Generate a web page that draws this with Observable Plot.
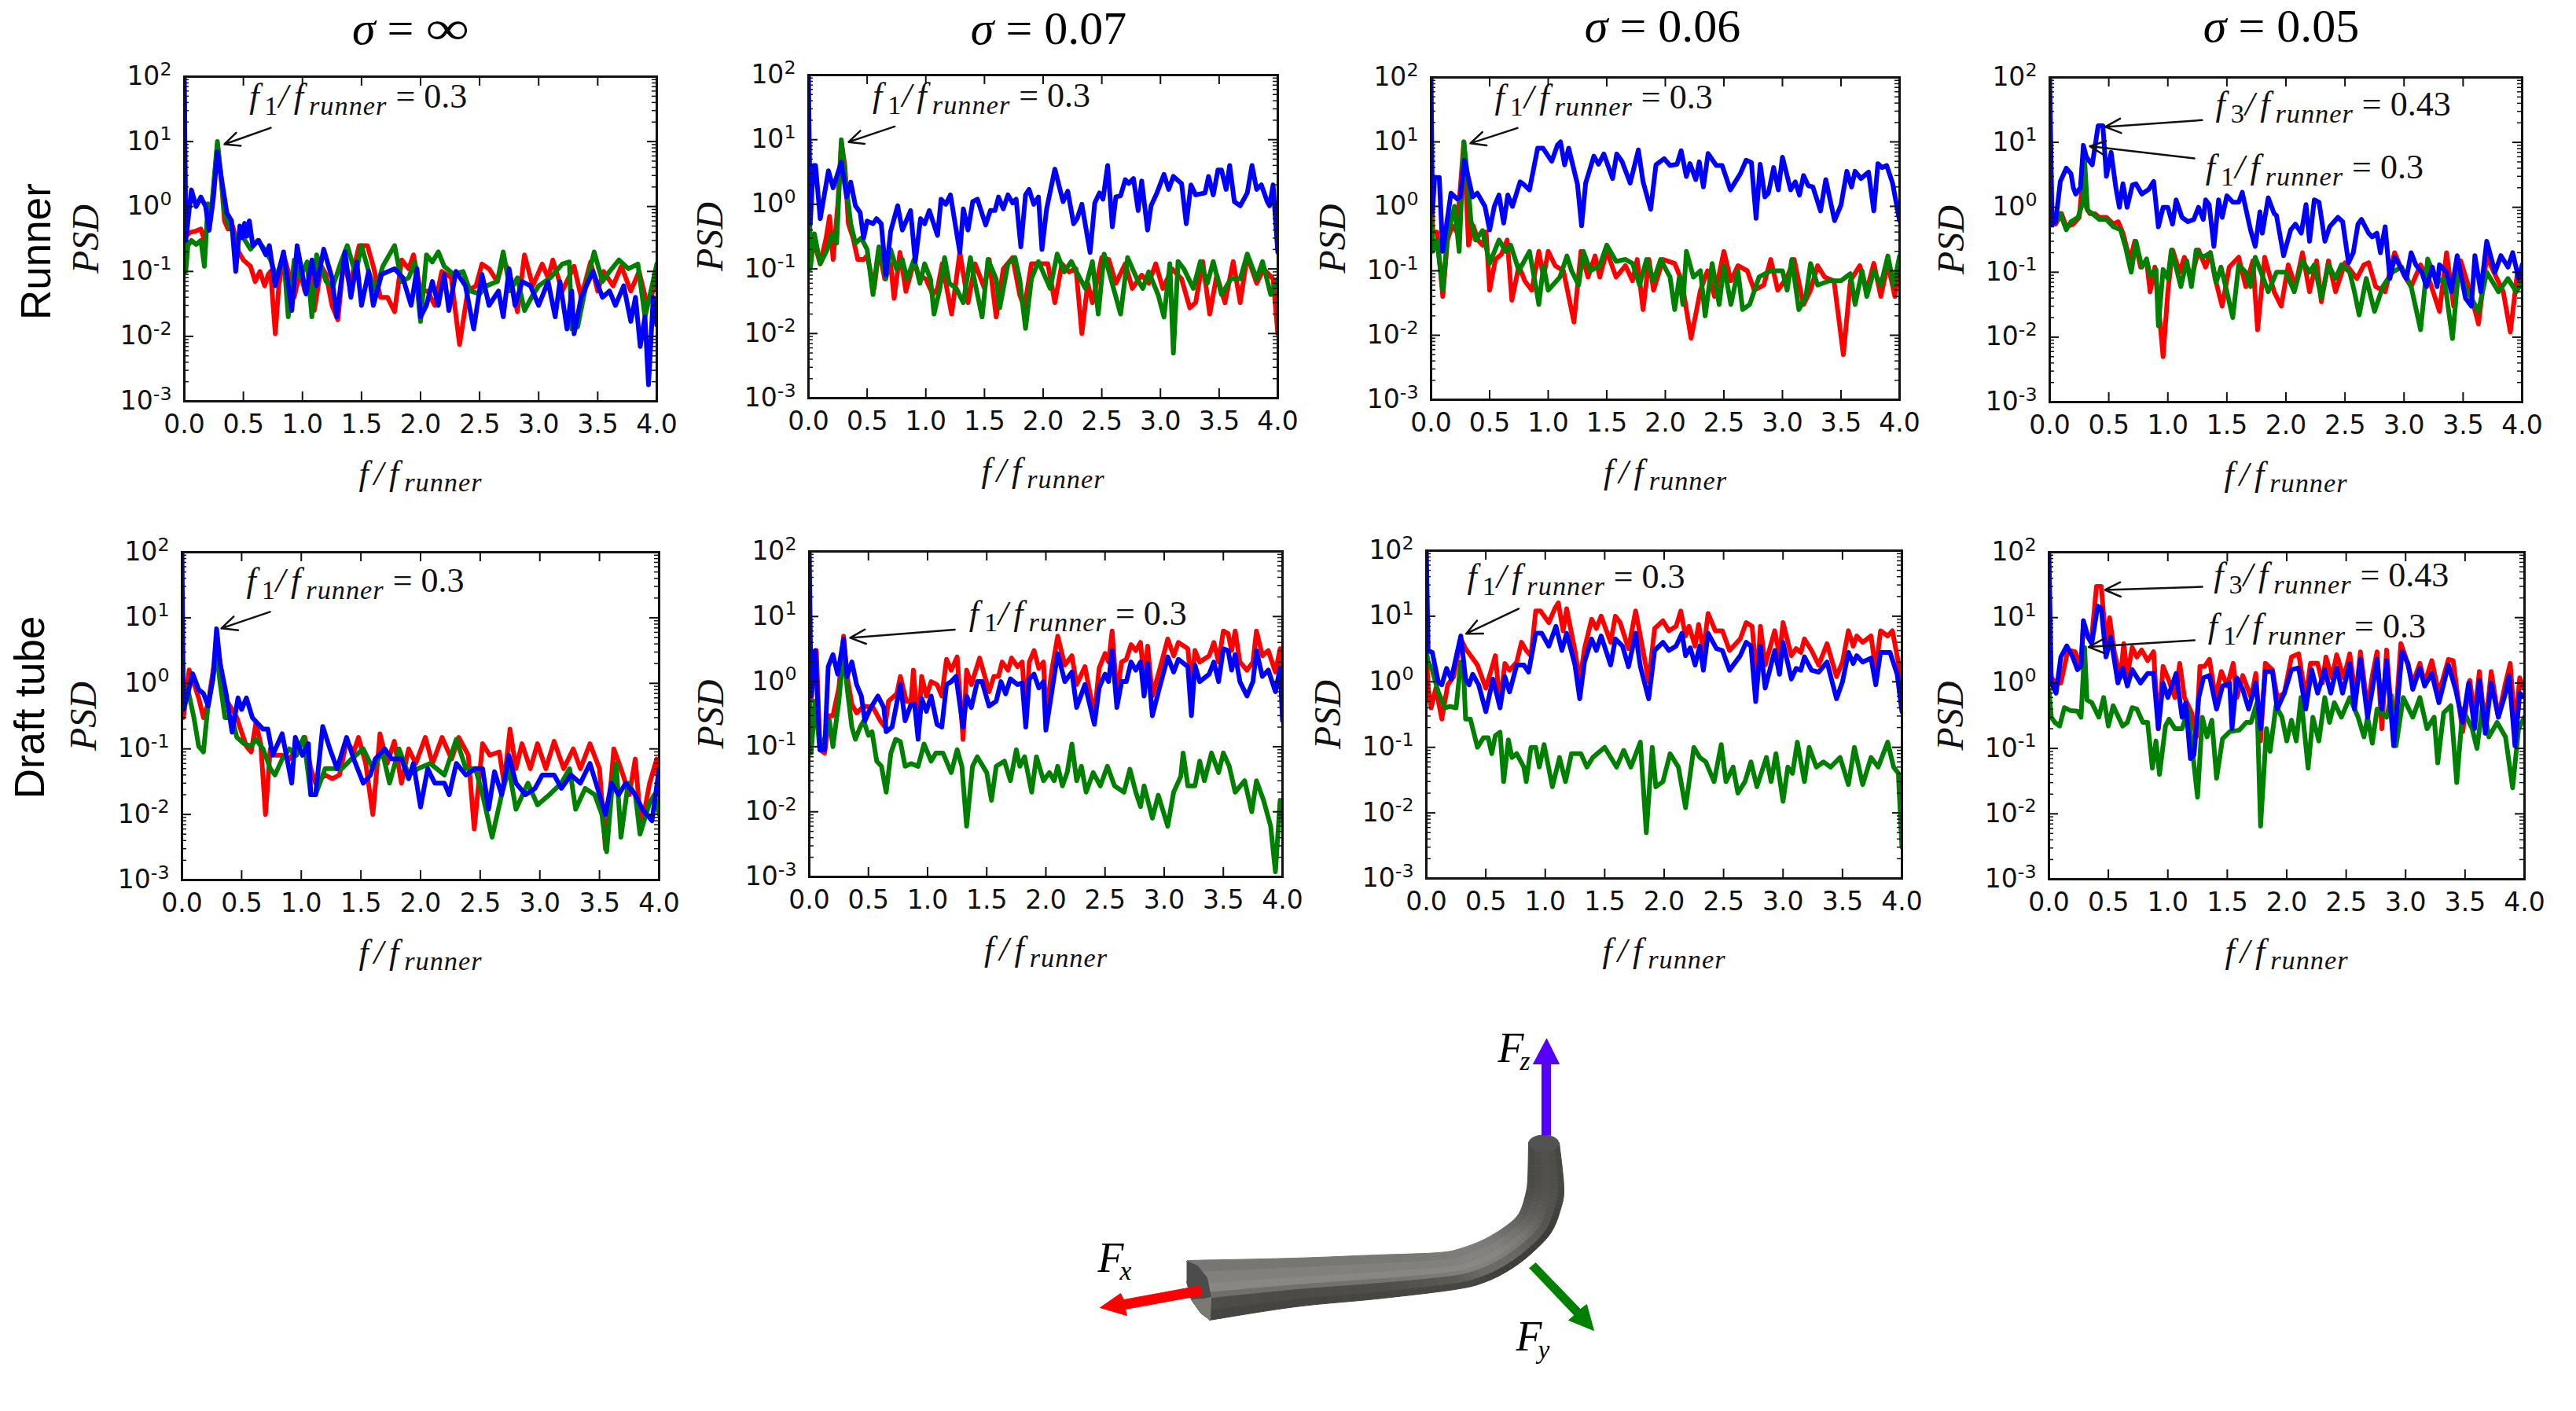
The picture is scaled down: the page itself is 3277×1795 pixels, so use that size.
<!DOCTYPE html>
<html><head><meta charset="utf-8">
<script src="https://cdn.jsdelivr.net/npm/d3@7"></script>
<script src="https://cdn.jsdelivr.net/npm/@observablehq/plot@0.6"></script>
<style>
html,body{margin:0;padding:0;background:#fff;}
#page{position:relative;width:3277px;height:1795px;overflow:hidden;background:#fff;}
#page svg{position:absolute;background:transparent;overflow:visible;}
.sigma{position:absolute;font:60px "Liberation Serif",serif;transform:translateX(-50%);white-space:pre;line-height:1;}
.sigma span{display:inline-block;transform:scaleX(1.3);margin:0 7px;}
.row{position:absolute;font:53px "Liberation Sans",sans-serif;transform:translate(-50%,-50%) rotate(-90deg);white-space:pre;line-height:1;}
</style></head><body><div id="page"></div>
<script>
const xTicks=[0,.5,1,1.5,2,2.5,3,3.5,4];
const yTicks=[1e-3,1e-2,1e-1,1,10,100];
const yMinor=[2e-3,3e-3,4e-3,5e-3,6e-3,7e-3,8e-3,9e-3,2e-2,3e-2,4e-2,5e-2,6e-2,7e-2,8e-2,9e-2,.2,.3,.4,.5,.6,.7,.8,.9,2,3,4,5,6,7,8,9,20,30,40,50,60,70,80,90];
const sigmas=["∞","0.07","0.06","0.05"];
const rows=["Runner","Draft tube"];

// Runner, sigma = infinity
const runInfRed=[[0,12],[.012,.35],[.05,.4],[.1,.42],[.14,.45],[.17,.3],[.2,.55],[.24,1.3],[.28,9],[.31,3],[.34,.6],[.37,.45],[.41,.5],[.46,.2],[.5,.15],[.56,.12],[.6,.07],[.64,.1],[.68,.06],[.71,.09],[.73,.1],[.77,.011],[.8,.06],[.84,.18],[.88,.1],[.93,.04],[.98,.1],[1.02,.05],[1.08,.1],[1.1,.025],[1.16,.12],[1.2,.09],[1.25,.03],[1.3,.018],[1.35,.15],[1.4,.06],[1.48,.25],[1.55,.25],[1.6,.12],[1.66,.04],[1.72,.04],[1.78,.024],[1.84,.15],[1.9,.11],[1.94,.18],[2,.05],[2.06,.05],[2.12,.03],[2.18,.1],[2.26,.08],[2.33,.0075],[2.4,.05],[2.47,.06],[2.52,.13],[2.58,.11],[2.65,.07],[2.7,.15],[2.75,.1],[2.82,.024],[2.88,.18],[2.95,.06],[3.03,.13],[3.08,.08],[3.12,.15],[3.2,.05],[3.3,.12],[3.36,.04],[3.44,.14],[3.5,.05],[3.55,.1],[3.63,.06],[3.7,.12],[3.78,.05],[3.85,.1],[3.92,.03],[4,.07]];
const runInfGreen=[[0,50],[.012,.1],[.03,.25],[.06,.3],[.1,.26],[.14,.3],[.17,.12],[.2,1.1],[.23,.9],[.28,10],[.31,3],[.34,.8],[.38,.5],[.43,.35],[.5,.33],[.56,.22],[.62,.3],[.68,.22],[.73,.15],[.78,.08],[.84,.18],[.88,.02],[.93,.15],[.98,.08],[1.04,.14],[1.08,.02],[1.12,.18],[1.2,.07],[1.26,.06],[1.32,.13],[1.38,.25],[1.45,.09],[1.5,.25],[1.56,.1],[1.62,.05],[1.68,.12],[1.78,.25],[1.84,.07],[1.9,.08],[1.95,.14],[2,.017],[2.05,.18],[2.1,.14],[2.15,.2],[2.2,.12],[2.28,.09],[2.36,.1],[2.42,.05],[2.5,.045],[2.56,.06],[2.65,.07],[2.7,.2],[2.76,.05],[2.82,.08],[2.88,.025],[2.94,.04],[3,.06],[3.1,.08],[3.2,.13],[3.26,.14],[3.28,.013],[3.33,.014],[3.4,.06],[3.47,.2],[3.54,.07],[3.6,.1],[3.68,.15],[3.76,.11],[3.84,.13],[3.9,.02],[3.96,.06],[4,.13]];
const runInfBlue=[[0,100],[.012,.3],[.06,1.8],[.1,1],[.14,1.4],[.18,1],[.21,.43],[.245,1.3],[.28,7],[.31,3],[.36,.8],[.4,.6],[.435,.1],[.47,.5],[.49,.33],[.51,.55],[.53,.35],[.55,.6],[.58,.25],[.63,.3],[.69,.18],[.72,.25],[.77,.06],[.84,.2],[.91,.025],[.955,.25],[1.03,.045],[1.08,.15],[1.12,.06],[1.18,.22],[1.25,.08],[1.29,.02],[1.36,.2],[1.41,.04],[1.46,.14],[1.5,.03],[1.56,.1],[1.6,.03],[1.67,.09],[1.78,.11],[1.85,.08],[1.92,.03],[1.97,.11],[2,.02],[2.05,.03],[2.1,.07],[2.15,.03],[2.2,.09],[2.24,.025],[2.3,.1],[2.38,.06],[2.45,.013],[2.52,.09],[2.58,.03],[2.66,.05],[2.7,.02],[2.75,.11],[2.8,.03],[2.86,.07],[2.93,.06],[3,.03],[3.08,.07],[3.14,.02],[3.18,.07],[3.24,.013],[3.28,.05],[3.3,.011],[3.36,.04],[3.46,.1],[3.54,.04],[3.6,.05],[3.65,.03],[3.72,.06],[3.78,.017],[3.82,.04],[3.86,.007],[3.9,.02],[3.93,.0018],[3.97,.04],[4,.015]];
const runInfNotes=[{label:"f_{1}/f_{runner}=0.3",tx:.55,ty:33,ax1:.732,ay1:16.3,ax2:.34,ay2:9.1}];

// Runner, sigma = 0.07
const run07Red=[[0,4],[.015,.25],[.05,.25],[.1,.12],[.15,.3],[.18,.65],[.21,.14],[.25,1],[.28,9],[.31,4],[.34,.5],[.38,.3],[.42,.14],[.47,.14],[.5,.16],[.56,.05],[.6,.2],[.65,.07],[.7,.12],[.73,.035],[.78,.18],[.83,.045],[.9,.13],[.94,.08],[1,.07],[1.06,.04],[1.1,.05],[1.14,.12],[1.22,.02],[1.29,.18],[1.36,.03],[1.42,.12],[1.5,.05],[1.54,.14],[1.6,.018],[1.66,.1],[1.74,.15],[1.8,.04],[1.84,.025],[1.9,.12],[1.96,.12],[2.04,.12],[2.1,.03],[2.16,.12],[2.22,.09],[2.28,.1],[2.33,.01],[2.38,.06],[2.42,.03],[2.5,.15],[2.56,.14],[2.62,.06],[2.7,.12],[2.76,.05],[2.84,.08],[2.9,.06],[2.96,.12],[3.02,.05],[3.1,.1],[3.18,.07],[3.25,.025],[3.3,.03],[3.36,.13],[3.42,.02],[3.48,.08],[3.55,.03],[3.62,.13],[3.68,.03],[3.74,.16],[3.82,.06],[3.88,.1],[3.96,.07],[4,.01]];
const run07Green=[[0,4],[.015,.1],[.05,.35],[.1,.12],[.16,.2],[.2,.35],[.24,.25],[.28,10],[.31,3],[.36,.5],[.4,.25],[.45,.3],[.5,.2],[.55,.04],[.58,.12],[.6,.22],[.66,.07],[.7,.2],[.75,.1],[.8,.14],[.84,.07],[.9,.14],[.95,.06],[.99,.12],[1.04,.07],[1.07,.02],[1.12,.05],[1.16,.15],[1.2,.06],[1.26,.05],[1.32,.03],[1.38,.15],[1.42,.06],[1.48,.018],[1.53,.14],[1.6,.07],[1.63,.025],[1.7,.12],[1.76,.15],[1.8,.07],[1.85,.012],[1.9,.07],[1.96,.13],[2.06,.05],[2.12,.17],[2.18,.09],[2.24,.13],[2.3,.08],[2.36,.05],[2.42,.13],[2.47,.02],[2.52,.17],[2.6,.05],[2.66,.02],[2.72,.15],[2.8,.07],[2.85,.05],[2.9,.09],[2.98,.04],[3.03,.018],[3.08,.12],[3.11,.005],[3.15,.13],[3.2,.1],[3.28,.05],[3.34,.13],[3.4,.06],[3.45,.13],[3.52,.04],[3.6,.07],[3.68,.07],[3.74,.17],[3.82,.07],[3.87,.13],[3.94,.04],[4,.07]];
const run07Blue=[[0,100],[.015,.5],[.03,1.7],[.045,4],[.06,4],[.1,.6],[.17,3.3],[.21,1.8],[.28,4.5],[.325,1.3],[.36,2.2],[.4,.95],[.44,.75],[.47,.3],[.5,.55],[.55,.5],[.58,.6],[.62,.5],[.66,.08],[.7,.38],[.76,.95],[.8,.4],[.87,.8],[.91,.13],[.955,.6],[.99,.5],[1.03,.8],[1.1,.33],[1.13,1.2],[1.17,1],[1.21,1.4],[1.29,.18],[1.32,.85],[1.36,.4],[1.4,1.1],[1.44,1.2],[1.51,.48],[1.55,.8],[1.59,.8],[1.62,1.3],[1.66,.85],[1.7,1.4],[1.74,1.05],[1.77,1.2],[1.81,.22],[1.85,1.4],[1.88,1.7],[1.92,1],[1.96,1.3],[1.99,.2],[2.03,.85],[2.1,3.5],[2.17,1.1],[2.21,1.6],[2.26,.5],[2.29,.6],[2.33,1],[2.4,.18],[2.44,1.05],[2.48,1.5],[2.51,1.2],[2.55,4],[2.59,.45],[2.62,1.3],[2.66,1.35],[2.7,2.4],[2.73,2.1],[2.77,2.5],[2.81,.8],[2.84,2.3],[2.89,.4],[2.92,.95],[2.97,1.5],[3.03,2.9],[3.07,1.7],[3.11,2.7],[3.18,2.1],[3.22,.5],[3.26,2],[3.3,1.4],[3.38,1.5],[3.41,2.7],[3.45,1.4],[3.49,3.4],[3.52,3.4],[3.56,1.7],[3.59,4],[3.63,1.1],[3.68,.95],[3.74,1.5],[3.78,4],[3.82,1.7],[3.86,2],[3.91,1.1],[3.93,.95],[3.96,2],[4,.18]];
const run07Notes=[{label:"f_{1}/f_{runner}=0.3",tx:.546,ty:32,ax1:.735,ay1:16,ax2:.342,ay2:9.2}];

// Runner, sigma = 0.06
const run06Red=[[0,3],[.015,.4],[.05,.4],[.1,.04],[.14,.3],[.18,.5],[.22,.4],[.28,10],[.32,.25],[.36,.5],[.4,.3],[.44,.25],[.47,.4],[.5,.05],[.55,.15],[.6,.18],[.65,.3],[.69,.035],[.75,.12],[.8,.07],[.86,.05],[.92,.2],[.96,.08],[1,.2],[1.06,.12],[1.13,.1],[1.22,.016],[1.28,.2],[1.34,.08],[1.4,.17],[1.44,.08],[1.5,.2],[1.58,.08],[1.66,.12],[1.72,.07],[1.76,.15],[1.81,.025],[1.86,.15],[1.9,.05],[1.98,.15],[2.08,.13],[2.14,.07],[2.22,.009],[2.3,.05],[2.36,.1],[2.42,.04],[2.5,.2],[2.56,.07],[2.62,.12],[2.7,.1],[2.76,.05],[2.84,.06],[2.9,.15],[2.96,.05],[3.04,.08],[3.1,.15],[3.18,.03],[3.24,.05],[3.3,.12],[3.36,.08],[3.44,.07],[3.52,.005],[3.58,.07],[3.66,.12],[3.72,.05],[3.78,.13],[3.84,.04],[3.9,.13],[3.96,.04],[4,.16]];
const run06Green=[[0,1],[.015,.2],[.05,.3],[.1,.05],[.14,.35],[.2,1],[.24,.2],[.28,10],[.31,3],[.34,.6],[.38,.3],[.44,.42],[.5,.13],[.58,.3],[.64,.2],[.68,.25],[.75,.1],[.84,.2],[.9,.05],[.92,.03],[.96,.12],[1,.05],[1.1,.08],[1.16,.17],[1.2,.1],[1.26,.06],[1.3,.2],[1.36,.1],[1.44,.12],[1.5,.25],[1.58,.14],[1.66,.15],[1.72,.13],[1.78,.06],[1.84,.15],[1.9,.07],[1.96,.15],[2.04,.08],[2.08,.025],[2.12,.08],[2.15,.03],[2.18,.2],[2.24,.08],[2.3,.1],[2.34,.02],[2.4,.13],[2.46,.03],[2.5,.12],[2.56,.03],[2.62,.1],[2.66,.025],[2.72,.03],[2.8,.08],[2.9,.1],[3,.1],[3.04,.05],[3.08,.15],[3.14,.025],[3.2,.04],[3.24,.13],[3.3,.06],[3.4,.07],[3.5,.07],[3.58,.09],[3.62,.03],[3.68,.1],[3.72,.04],[3.78,.1],[3.84,.06],[3.9,.17],[3.95,.06],[4,.17]];
const run06Blue=[[0,100],[.012,.8],[.03,2.8],[.07,2.8],[.1,.2],[.17,1.6],[.225,1.3],[.25,1.4],[.285,5.2],[.355,1.4],[.395,1.6],[.46,1],[.5,.43],[.54,1],[.58,1.5],[.62,.55],[.655,1.5],[.695,1],[.76,2.4],[.79,2.2],[.84,1.8],[.91,8],[.955,8],[1.03,5],[1.08,9],[1.105,10],[1.14,4.4],[1.175,8],[1.25,2.2],[1.285,.5],[1.32,2.3],[1.39,6],[1.43,4.5],[1.475,6.5],[1.55,2.7],[1.585,6.5],[1.63,5],[1.7,2.3],[1.77,7.5],[1.81,2.4],[1.875,.9],[1.92,4.4],[1.99,5.5],[2.04,4.3],[2.1,4.5],[2.135,7.3],[2.18,2.9],[2.21,4.6],[2.26,2.6],[2.29,4.9],[2.325,2],[2.365,6.6],[2.435,4.3],[2.485,4.3],[2.555,1.8],[2.64,3.2],[2.69,5.2],[2.735,4.8],[2.775,.65],[2.81,4.5],[2.85,1.4],[2.88,1.6],[2.925,4],[2.965,1.8],[3,5.8],[3.07,1.8],[3.11,2.4],[3.145,1.5],[3.18,3],[3.22,2.1],[3.26,2],[3.325,.85],[3.37,2.6],[3.445,.6],[3.5,1.05],[3.55,3.5],[3.59,2],[3.62,3.5],[3.67,2.7],[3.735,3.4],[3.78,.85],[3.815,4.6],[3.85,4],[3.89,4.3],[3.94,2.3],[4,.6]];
const run06Notes=[{label:"f_{1}/f_{runner}=0.3",tx:.544,ty:33,ax1:.738,ay1:16.4,ax2:.335,ay2:9.5}];

// Runner, sigma = 0.05
const run05Red=[[0,3],[.015,.55],[.05,.55],[.1,.8],[.14,.5],[.2,.55],[.25,.7],[.285,3.5],[.31,1],[.34,.8],[.38,.8],[.42,.7],[.48,.7],[.54,.55],[.58,.6],[.62,.4],[.68,.15],[.72,.3],[.77,.12],[.82,.15],[.85,.05],[.89,.12],[.93,.02],[.96,.005],[1,.05],[1.04,.22],[1.1,.1],[1.14,.17],[1.2,.08],[1.26,.22],[1.32,.12],[1.36,.2],[1.4,.08],[1.46,.03],[1.52,.12],[1.6,.17],[1.66,.06],[1.72,.15],[1.76,.013],[1.82,.17],[1.9,.05],[1.96,.03],[2.02,.13],[2.08,.06],[2.14,.2],[2.2,.05],[2.26,.15],[2.3,.035],[2.36,.15],[2.42,.05],[2.5,.14],[2.6,.08],[2.66,.13],[2.7,.14],[2.76,.06],[2.84,.05],[2.92,.2],[3,.09],[3.06,.06],[3.14,.13],[3.22,.07],[3.3,.025],[3.36,.2],[3.42,.03],[3.48,.15],[3.56,.05],[3.63,.016],[3.7,.18],[3.76,.1],[3.84,.05],[3.9,.012],[3.96,.1],[4,.06]];
const run05Green=[[0,1.5],[.015,.6],[.05,.6],[.09,.8],[.14,.45],[.18,.6],[.24,.7],[.28,1.2],[.295,5.5],[.32,.9],[.36,.8],[.42,.65],[.48,.65],[.54,.5],[.6,.45],[.64,.25],[.69,.1],[.73,.3],[.78,.12],[.82,.16],[.85,.09],[.9,.11],[.92,.015],[.96,.11],[1,.08],[1.03,.22],[1.08,.1],[1.11,.06],[1.16,.15],[1.2,.06],[1.24,.22],[1.3,.17],[1.36,.2],[1.41,.07],[1.45,.12],[1.5,.05],[1.55,.02],[1.6,.13],[1.66,.1],[1.7,.06],[1.74,.17],[1.79,.1],[1.85,.05],[1.92,.1],[2,.1],[2.07,.05],[2.14,.15],[2.2,.1],[2.24,.13],[2.3,.04],[2.36,.13],[2.42,.08],[2.47,.13],[2.54,.1],[2.58,.05],[2.62,.022],[2.68,.08],[2.75,.025],[2.82,.06],[2.9,.1],[2.98,.12],[3.06,.06],[3.14,.013],[3.2,.16],[3.28,.07],[3.34,.08],[3.41,.0095],[3.46,.1],[3.54,.05],[3.63,.025],[3.7,.1],[3.8,.05],[3.88,.08],[3.95,.05],[4,.07]];
const run05Blue=[[0,100],[.02,.55],[.05,.6],[.09,2.5],[.14,4],[.18,3.3],[.2,2],[.22,1.6],[.26,2],[.285,9],[.31,6],[.34,5],[.36,4.5],[.41,18],[.45,18],[.48,3],[.52,7],[.56,2],[.59,1],[.62,2.3],[.655,1],[.7,2.2],[.73,2.3],[.78,1.6],[.84,1.9],[.88,2.5],[.92,.5],[.96,1],[1,1],[1.04,.55],[1.07,1.3],[1.12,.7],[1.17,.6],[1.22,.65],[1.26,1],[1.3,.65],[1.32,1.3],[1.35,1.1],[1.39,.25],[1.43,1.3],[1.46,.7],[1.5,1.5],[1.55,1.2],[1.6,1.2],[1.63,1.7],[1.7,.45],[1.74,.25],[1.78,.85],[1.8,.4],[1.85,1.4],[1.9,.8],[1.92,.75],[1.98,.18],[2.04,.45],[2.08,.55],[2.13,.4],[2.17,1.1],[2.2,.3],[2.24,1.3],[2.28,1.2],[2.33,.3],[2.37,.5],[2.44,.7],[2.48,.6],[2.53,.14],[2.57,.2],[2.61,.55],[2.64,.65],[2.7,.4],[2.73,.35],[2.77,.4],[2.8,.2],[2.84,.5],[2.88,.08],[2.92,.17],[2.96,.13],[3.02,.08],[3.06,.2],[3.1,.13],[3.15,.1],[3.19,.06],[3.24,.12],[3.28,.06],[3.3,.13],[3.36,.1],[3.4,.05],[3.45,.18],[3.52,.04],[3.57,.03],[3.6,.18],[3.65,.05],[3.7,.3],[3.77,.1],[3.82,.18],[3.88,.12],[3.92,.2],[3.97,.08],[4,.13]];
const run05Notes=[{label:"f_{3}/f_{runner}=0.43",tx:1.405,ty:26,ax1:1.29,ay1:22,ax2:.47,ay2:17.3},{label:"f_{1}/f_{runner}=0.3",tx:1.32,ty:2.8,ax1:1.225,ay1:5.66,ax2:.34,ay2:8.7}];

// Draft tube, sigma = infinity
const dtInfRed=[[0,1],[.012,.3],[.06,1.6],[.1,1],[.14,.6],[.18,.3],[.22,.5],[.27,2],[.29,5],[.32,2],[.36,.6],[.42,.4],[.46,.3],[.5,.18],[.54,.11],[.58,.09],[.62,.25],[.66,.12],[.7,.01],[.74,.1],[.78,.08],[.84,.08],[.9,.07],[.96,.1],[1.03,.15],[1.08,.05],[1.12,.03],[1.2,.04],[1.26,.035],[1.32,.04],[1.38,.13],[1.44,.09],[1.48,.15],[1.54,.06],[1.6,.01],[1.66,.17],[1.72,.06],[1.78,.13],[1.84,.03],[1.9,.1],[1.96,.06],[2.04,.15],[2.1,.06],[2.18,.15],[2.26,.07],[2.32,.15],[2.4,.08],[2.45,.006],[2.52,.12],[2.58,.08],[2.66,.09],[2.7,.03],[2.75,.2],[2.8,.05],[2.85,.12],[2.92,.05],[2.98,.12],[3.05,.05],[3.12,.13],[3.2,.05],[3.28,.1],[3.34,.05],[3.42,.12],[3.5,.05],[3.55,.003],[3.62,.1],[3.68,.05],[3.75,.02],[3.8,.07],[3.85,.006],[3.92,.03],[3.98,.07],[4,.02]];
const dtInfGreen=[[0,2],[.012,.8],[.05,.8],[.1,.3],[.14,.11],[.18,.09],[.22,.5],[.26,1.2],[.29,3],[.32,1],[.36,.3],[.42,.3],[.46,.15],[.52,.12],[.58,.11],[.62,.14],[.68,.1],[.74,.05],[.78,.04],[.84,.07],[.9,.1],[.96,.08],[1.02,.15],[1.08,.02],[1.12,.02],[1.2,.05],[1.26,.05],[1.34,.05],[1.42,.07],[1.52,.1],[1.6,.05],[1.68,.09],[1.74,.03],[1.82,.1],[1.9,.04],[1.98,.05],[2.08,.06],[2.2,.04],[2.3,.14],[2.38,.05],[2.46,.05],[2.52,.02],[2.6,.0045],[2.68,.02],[2.74,.05],[2.8,.012],[2.9,.03],[2.98,.014],[3.08,.02],[3.18,.03],[3.25,.05],[3.3,.012],[3.38,.025],[3.46,.02],[3.52,.01],[3.56,.0027],[3.6,.02],[3.64,.06],[3.68,.0045],[3.74,.03],[3.8,.02],[3.84,.005],[3.92,.015],[3.96,.02],[4,.01]];
const dtInfBlue=[[0,100],[.012,.4],[.04,.6],[.09,1.4],[.14,.8],[.18,.7],[.22,.45],[.26,1.2],[.29,6.8],[.32,2],[.37,.7],[.42,.18],[.47,.6],[.5,.4],[.54,.6],[.59,.3],[.63,.25],[.68,.2],[.72,.2],[.76,.08],[.84,.17],[.92,.03],[.95,.15],[1.01,.08],[1.06,.12],[1.08,.02],[1.12,.02],[1.18,.22],[1.24,.1],[1.3,.05],[1.38,.15],[1.44,.07],[1.52,.03],[1.58,.04],[1.62,.07],[1.7,.1],[1.76,.07],[1.84,.07],[1.9,.035],[1.94,.06],[2,.013],[2.06,.05],[2.12,.03],[2.2,.03],[2.24,.02],[2.3,.06],[2.38,.04],[2.46,.05],[2.52,.05],[2.57,.012],[2.62,.045],[2.68,.02],[2.74,.08],[2.8,.03],[2.88,.02],[2.96,.025],[3.02,.04],[3.12,.04],[3.18,.025],[3.26,.04],[3.34,.03],[3.42,.06],[3.5,.02],[3.55,.01],[3.6,.03],[3.66,.02],[3.72,.03],[3.8,.02],[3.86,.012],[3.94,.008],[4,.05]];
const dtInfNotes=[{label:"f_{1}/f_{runner}=0.3",tx:.54,ty:25,ax1:.738,ay1:12.3,ax2:.33,ay2:6.9}];

// Draft tube, sigma = 0.07
const dt07Red=[[0,1],[.015,.5],[.06,3],[.09,.09],[.13,.08],[.17,.3],[.2,.3],[.25,.8],[.29,5],[.32,1.2],[.36,.45],[.4,.33],[.46,.42],[.54,.4],[.6,.25],[.64,.2],[.67,.5],[.74,.65],[.77,1.2],[.82,.5],[.86,.5],[.88,1.5],[.92,.18],[.95,1.2],[.99,.6],[1.03,1],[1.08,.9],[1.12,.6],[1.16,2.2],[1.2,1.5],[1.25,2.4],[1.3,.13],[1.33,1.5],[1.37,.9],[1.44,2.3],[1.52,.7],[1.56,1.2],[1.6,1.2],[1.63,2],[1.68,1.5],[1.71,2.3],[1.76,1.7],[1.8,2],[1.83,.3],[1.86,2],[1.9,3],[1.94,1.6],[1.98,2],[2,.3],[2.05,1.5],[2.1,5],[2.16,1.8],[2.22,2.5],[2.26,.9],[2.33,1.7],[2.41,.3],[2.45,1.6],[2.5,2.7],[2.53,2],[2.56,6],[2.6,.6],[2.64,2],[2.68,2.2],[2.72,3.7],[2.76,3],[2.8,4],[2.83,1],[2.86,3.5],[2.9,.6],[2.96,1.5],[3.03,4.5],[3.08,2.5],[3.12,4],[3.2,3.2],[3.23,.8],[3.26,3],[3.3,2],[3.38,2.5],[3.42,4],[3.46,2],[3.5,6],[3.54,5.5],[3.57,3],[3.6,6],[3.64,2],[3.7,1.5],[3.75,2],[3.78,6],[3.83,2.5],[3.88,3],[3.94,1.4],[3.98,3.2],[4,.6]];
const dt07Green=[[0,1],[.015,.08],[.05,.5],[.09,.09],[.14,.15],[.17,.25],[.2,.1],[.25,.5],[.29,3],[.32,.8],[.36,.2],[.39,.13],[.43,.2],[.46,.25],[.5,.15],[.53,.17],[.57,.06],[.61,.05],[.65,.02],[.69,.08],[.73,.13],[.77,.12],[.81,.05],[.86,.055],[.92,.05],[.97,.11],[1.03,.06],[1.07,.08],[1.13,.08],[1.2,.04],[1.25,.09],[1.29,.05],[1.33,.006],[1.38,.05],[1.42,.07],[1.5,.04],[1.54,.015],[1.58,.05],[1.65,.06],[1.7,.03],[1.75,.09],[1.78,.05],[1.82,.07],[1.88,.02],[1.92,.07],[1.98,.03],[2.03,.04],[2.07,.03],[2.1,.05],[2.14,.025],[2.18,.04],[2.22,.11],[2.26,.03],[2.3,.05],[2.34,.02],[2.4,.04],[2.46,.025],[2.52,.05],[2.58,.025],[2.66,.02],[2.71,.045],[2.76,.02],[2.8,.012],[2.83,.025],[2.9,.008],[2.95,.018],[3.03,.006],[3.08,.02],[3.14,.035],[3.16,.08],[3.2,.025],[3.26,.025],[3.3,.06],[3.34,.03],[3.4,.08],[3.46,.04],[3.5,.08],[3.55,.05],[3.6,.02],[3.68,.03],[3.74,.01],[3.78,.03],[3.84,.015],[3.9,.006],[3.94,.0012],[3.98,.015],[4,.01]];
const dt07Blue=[[0,100],[.015,.6],[.05,3],[.09,.09],[.13,.09],[.16,1.7],[.2,2.6],[.24,1.3],[.29,4.5],[.32,1.2],[.36,2],[.4,.9],[.44,.6],[.47,.25],[.52,.4],[.58,.6],[.63,.4],[.65,.17],[.7,.2],[.77,.9],[.81,.25],[.86,.45],[.89,.45],[.92,.13],[.95,.55],[.99,.35],[1.03,.6],[1.08,.22],[1.12,.2],[1.16,.9],[1.2,1],[1.24,1.2],[1.3,.2],[1.33,.6],[1.37,.4],[1.42,1],[1.46,1],[1.52,.42],[1.58,.5],[1.62,1],[1.66,.65],[1.7,1.1],[1.76,.9],[1.8,.95],[1.83,.2],[1.86,1.1],[1.9,1.3],[1.94,.8],[1.98,1],[2,.18],[2.05,.7],[2.1,2.7],[2.16,1],[2.22,1.4],[2.26,.4],[2.33,.9],[2.41,.22],[2.45,.8],[2.5,1.3],[2.53,1],[2.56,3],[2.6,.4],[2.64,1],[2.68,1],[2.72,2],[2.76,1.5],[2.8,2],[2.83,.6],[2.86,1.9],[2.9,.3],[2.96,.8],[3.03,2.4],[3.08,1.4],[3.12,2.2],[3.2,1.7],[3.23,.3],[3.26,1.8],[3.3,1],[3.38,1.3],[3.42,2],[3.46,1],[3.5,3.2],[3.54,3],[3.57,1.5],[3.6,2.6],[3.64,1],[3.7,.6],[3.75,1],[3.78,3],[3.83,1.2],[3.88,1.5],[3.94,.7],[3.98,1.6],[4,.25]];
const dt07Notes=[{label:"f_{1}/f_{runner}=0.3",tx:1.35,ty:7.5,ax1:1.23,ay1:6.3,ax2:.345,ay2:4.7}];

// Draft tube, sigma = 0.06
const dt06Red=[[0,3],[.015,.8],[.04,.4],[.08,.8],[.13,.27],[.18,.9],[.23,1.2],[.29,4.5],[.33,3.2],[.38,2.4],[.43,1.8],[.5,.8],[.55,1.6],[.58,2.5],[.62,.45],[.66,1.9],[.7,1.5],[.76,2],[.8,4],[.84,3],[.88,2.5],[.92,12],[.96,12],[1.03,8],[1.08,13],[1.11,16],[1.15,6],[1.18,13],[1.25,3],[1.29,1],[1.33,3.2],[1.39,9],[1.43,6.5],[1.47,10],[1.55,4],[1.59,10],[1.63,8],[1.7,3.2],[1.76,12],[1.81,4],[1.87,1],[1.92,6.5],[1.99,8.5],[2.04,6],[2.1,7],[2.14,12],[2.18,5],[2.21,7],[2.26,3.5],[2.29,7.5],[2.33,3],[2.37,11],[2.43,6],[2.49,6],[2.55,3],[2.64,4.5],[2.69,8],[2.74,7],[2.78,1],[2.81,7],[2.85,1.8],[2.93,6],[2.97,2.5],[3,8],[3.07,2.5],[3.11,3.2],[3.15,2.8],[3.18,4.5],[3.24,3],[3.3,1.8],[3.37,3.8],[3.45,1.2],[3.5,2],[3.55,6],[3.59,3.5],[3.62,5],[3.67,4],[3.74,5],[3.78,1.5],[3.82,6],[3.88,5],[3.92,6],[4,1]];
const dt06Green=[[0,3],[.015,2],[.05,1.5],[.1,.7],[.16,.4],[.2,.42],[.25,.4],[.29,2],[.31,2],[.33,.27],[.37,.27],[.43,.1],[.48,.14],[.52,.14],[.55,.08],[.58,.15],[.62,.17],[.65,.03],[.69,.13],[.72,.07],[.76,.08],[.82,.05],[.84,.03],[.88,.1],[.92,.1],[.95,.05],[.99,.11],[1.06,.025],[1.12,.07],[1.17,.03],[1.22,.08],[1.3,.08],[1.35,.05],[1.4,.07],[1.5,.1],[1.6,.05],[1.66,.09],[1.72,.05],[1.8,.12],[1.85,.005],[1.9,.1],[1.93,.025],[1.99,.03],[2.05,.08],[2.12,.05],[2.18,.012],[2.25,.1],[2.3,.07],[2.35,.06],[2.42,.03],[2.48,.11],[2.52,.03],[2.58,.05],[2.62,.02],[2.68,.03],[2.73,.06],[2.78,.025],[2.86,.07],[2.9,.03],[2.94,.08],[3,.015],[3.04,.05],[3.08,.04],[3.12,.12],[3.18,.03],[3.22,.1],[3.28,.05],[3.34,.06],[3.4,.05],[3.48,.07],[3.55,.027],[3.6,.1],[3.67,.027],[3.74,.07],[3.8,.05],[3.88,.12],[3.93,.05],[3.97,.04],[4,.003]];
const dt06Blue=[[0,100],[.015,3],[.05,2.8],[.1,1],[.13,.9],[.17,1.6],[.21,1.1],[.29,5],[.33,1.1],[.36,.9],[.39,1.3],[.44,.9],[.5,.35],[.56,1.1],[.62,.4],[.66,1.2],[.7,.7],[.76,1.8],[.82,1.8],[.86,1.4],[.92,5.5],[.97,5.5],[1.03,3.5],[1.09,7],[1.14,3],[1.18,5.5],[1.25,1.8],[1.29,.55],[1.33,2],[1.39,4.5],[1.43,3],[1.47,5],[1.55,1.8],[1.59,4.5],[1.65,3.5],[1.7,1.7],[1.76,5.5],[1.8,1.7],[1.87,.55],[1.92,3],[1.99,4],[2.04,3],[2.1,3.5],[2.15,5.5],[2.18,2.5],[2.22,3.3],[2.26,1.8],[2.3,3.5],[2.33,1.5],[2.37,5.5],[2.44,3.2],[2.49,3],[2.55,1.5],[2.64,2.5],[2.69,4],[2.73,3.5],[2.77,.5],[2.81,3.5],[2.85,.8],[2.93,3],[2.97,1.3],[3,4],[3.07,1.1],[3.11,1.6],[3.15,1.5],[3.18,2.4],[3.24,1.5],[3.3,1.4],[3.37,2],[3.45,.55],[3.5,1],[3.55,2.8],[3.59,1.9],[3.62,2.5],[3.67,2],[3.74,2.3],[3.78,.9],[3.82,2.8],[3.9,2.8],[3.96,1.3],[4,.35]];
const dt06Notes=[{label:"f_{1}/f_{runner}=0.3",tx:.344,ty:27,ax1:.777,ay1:13,ax2:.335,ay2:5.4}];

// Draft tube, sigma = 0.05
const dt05Red=[[0,3],[.02,1.2],[.06,1],[.1,1],[.16,3.2],[.22,3],[.27,1.8],[.29,8],[.33,5],[.36,5],[.4,30],[.44,30],[.48,4],[.51,10],[.55,3],[.6,1.2],[.63,4],[.66,1.3],[.7,3.5],[.74,2.5],[.78,3.2],[.83,2.2],[.88,3],[.92,.2],[.96,1.8],[1,1.2],[1.06,.6],[1.1,2],[1.14,.6],[1.2,.35],[1.24,.15],[1.27,1.8],[1.31,1.8],[1.35,2.3],[1.4,.6],[1.45,1.5],[1.5,.9],[1.55,2],[1.58,.6],[1.63,1.3],[1.7,.6],[1.74,1.4],[1.78,.13],[1.82,2],[1.88,1.6],[1.92,.6],[1.98,.7],[2.04,2.5],[2.1,2.8],[2.16,.6],[2.2,2],[2.26,2],[2.3,1],[2.33,2.5],[2.38,1.2],[2.42,2.7],[2.48,1.2],[2.53,2.8],[2.58,.6],[2.62,3],[2.68,.4],[2.72,1.3],[2.76,3],[2.8,.2],[2.84,3.2],[2.9,.12],[2.96,4],[3,2.5],[3.06,1],[3.12,2],[3.16,1],[3.22,2.2],[3.28,.7],[3.36,2.3],[3.4,2.2],[3.44,.6],[3.48,.18],[3.54,1.1],[3.58,.3],[3.62,1.5],[3.67,.2],[3.72,1.5],[3.78,.3],[3.84,1],[3.88,2],[3.92,.2],[3.96,1.2],[4,.8]];
const dt05Green=[[0,.8],[.02,.3],[.05,.25],[.09,.22],[.13,.42],[.18,.38],[.24,.37],[.27,.3],[.3,3.5],[.32,.55],[.36,.5],[.42,.3],[.46,.6],[.5,.22],[.54,.45],[.62,.22],[.66,.25],[.7,.42],[.74,.4],[.79,.25],[.83,.25],[.87,.05],[.9,.13],[.93,.04],[.98,.22],[1.01,.28],[1.06,.2],[1.12,.2],[1.17,.4],[1.2,.12],[1.25,.018],[1.29,.3],[1.33,.15],[1.37,.27],[1.41,.035],[1.46,.14],[1.52,.18],[1.6,.19],[1.66,.25],[1.7,.25],[1.75,.5],[1.78,.0065],[1.83,.2],[1.86,.09],[1.91,.45],[1.96,.3],[2,.13],[2.04,.27],[2.08,.13],[2.12,.6],[2.18,.05],[2.22,.3],[2.27,.13],[2.32,.6],[2.36,.25],[2.4,.5],[2.46,.3],[2.53,.6],[2.6,.3],[2.65,.15],[2.68,.3],[2.72,.12],[2.76,.4],[2.84,.3],[2.88,.65],[2.92,.11],[2.98,.6],[3.06,.3],[3.12,.6],[3.18,.2],[3.24,.3],[3.27,.06],[3.32,.35],[3.38,.45],[3.43,.03],[3.48,.4],[3.56,.2],[3.6,.1],[3.65,.5],[3.7,.15],[3.77,.25],[3.84,.15],[3.9,.025],[3.95,.2],[4,.3]];
const dt05Blue=[[0,100],[.02,1],[.06,.7],[.1,2.5],[.15,3.7],[.2,2.5],[.24,1.6],[.27,1.8],[.29,9],[.33,5],[.36,4],[.41,15],[.44,14],[.48,2.5],[.52,5],[.58,1],[.62,1.7],[.66,.9],[.7,1.6],[.77,1],[.83,1.4],[.88,1.4],[.92,.2],[.96,1],[1,.6],[1.07,1.4],[1.12,.3],[1.15,.5],[1.19,.07],[1.22,.08],[1.26,.6],[1.3,1.2],[1.35,1.3],[1.41,.4],[1.46,.9],[1.52,1],[1.54,.2],[1.58,1.2],[1.63,.8],[1.68,.4],[1.74,1],[1.78,.2],[1.82,1.5],[1.88,1.5],[1.92,.4],[1.98,.7],[2.04,1.6],[2.1,1.7],[2.16,.4],[2.21,1.6],[2.26,.7],[2.32,1.6],[2.37,.7],[2.42,1.7],[2.47,.7],[2.53,2],[2.57,.4],[2.62,2.3],[2.68,.3],[2.72,.8],[2.76,2.3],[2.8,.4],[2.84,2.2],[2.9,.11],[2.97,3],[3.02,2],[3.06,.8],[3.12,1.7],[3.16,.9],[3.22,1.4],[3.28,.5],[3.36,1.9],[3.42,.8],[3.48,.25],[3.53,1],[3.58,.2],[3.62,1.1],[3.67,.17],[3.72,1],[3.78,.3],[3.84,.7],[3.87,1.3],[3.92,.11],[3.96,.7],[4,.6]];
const dt05Notes=[{label:"f_{3}/f_{runner}=0.43",tx:1.387,ty:29.6,ax1:1.29,ay1:29.6,ax2:.472,ay2:26.5},{label:"f_{1}/f_{runner}=0.3",tx:1.338,ty:4.9,ax1:1.225,ay1:4.5,ax2:.334,ay2:3.55}];

// Sketch of the draft tube (page pixels, no chart values)
const tubeUpper=[[1510,1603],[1647,1600],[1750,1596],[1830,1593],[1860,1587],[1890,1575],[1917,1558],[1932,1543],[1940,1520],[1943,1500],[1944,1453]];
const tubeLower=[[1538,1679],[1647,1662],[1750,1652],[1850,1640],[1890,1630],[1923,1613],[1950,1592],[1973,1567],[1985,1537],[1989,1510],[1983,1453]];
const tubeBands=[0,.2,.4,.55,.65,.85,1];
const tubeGrays=[[118,128,135,110,75,68],[118,128,135,112,75,68],[120,128,135,115,78,70],[122,128,135,125,90,70],[125,130,135,130,105,65],[120,128,132,125,105,60],[105,112,118,115,95,60],[90,95,98,95,85,60],[78,82,84,84,80,66],[72,76,80,80,78,70],[72,76,78,78,76,72]];
const outletDark=[[1509,1604],[1523,1610],[1535,1625],[1540,1650],[1539,1679],[1527,1670],[1515,1653],[1509,1630]];
const outletRim=[[1515,1653],[1530,1652],[1540,1650],[1539,1679],[1527,1670]];
const arrowRed=[[1527,1635],[1429,1653],[1425,1645],[1399,1663],[1433,1673],[1431,1665],[1529,1647]];
const arrowBlue=[[1961,1444],[1961,1353],[1950,1353],[1967,1321],[1983,1353],[1972,1353],[1972,1444]];
const arrowGreen=[[1945,1613],[1953,1606],[2010,1665],[2018,1659],[2027,1692],[1995,1679],[2002,1673]];
const forceLabels=[{t:"F_{x}",x:1396,y:1617},{t:"F_{z}",x:1905,y:1350},{t:"F_{y}",x:1928,y:1717}];

const frames=[[234,835,97,510],[1027.5,1624.5,95,506],[1820,2416,98,508],[2607,3208,98,511],[231,838,702,1119],[1029,1631,701,1115],[1814,2419,700,1117],[2606,3211,702,1118]];
const panels=[
 [runInfRed,runInfGreen,runInfBlue,runInfNotes],[run07Red,run07Green,run07Blue,run07Notes],[run06Red,run06Green,run06Blue,run06Notes],[run05Red,run05Green,run05Blue,run05Notes],
 [dtInfRed,dtInfGreen,dtInfBlue,dtInfNotes],[dt07Red,dt07Green,dt07Blue,dt07Notes],[dt06Red,dt06Green,dt06Blue,dt06Notes],[dt05Red,dt05Green,dt05Blue,dt05Notes]];
const seriesColors=["#ff0000","#008000","#0000ff"];

const page=document.getElementById("page");
const NS="http://www.w3.org/2000/svg";
function typeset(svg){
  svg.querySelectorAll("text").forEach(t=>{
    const s=t.textContent; if(!/[_^]/.test(s)) return;
    const base=parseFloat(getComputedStyle(t).fontSize);
    const math=!/^\d/.test(s), force=s[0]==="F";
    t.textContent=""; let shift=0;
    const add=(str,o)=>{const e=document.createElementNS(NS,"tspan");e.textContent=str;
      e.style.fontSize=o.size+"px";e.style.fontStyle=o.italic?"italic":"normal";
      if(o.ls)e.style.letterSpacing=o.ls+"px";
      const dy=(o.rise||0)-shift;shift=o.rise||0;if(dy)e.setAttribute("dy",dy);
      if(o.dx)e.setAttribute("dx",o.dx);t.appendChild(e);};
    for(const m of s.matchAll(/_\{([^}]*)\}|\^\{([^}]*)\}|[^_^]+/g)){
      if(m[1]!==undefined) add(m[1],{size:base*(force?.62:.78),italic:/[a-z]/.test(m[1]),rise:base*.2,ls:force?0:1,dx:force?-5:0});
      else if(m[2]!==undefined) add(m[2],{size:base*.72,italic:false,rise:-base*.38});
      else if(!math) add(m[0],{size:base});
      else for(const p of m[0].match(/[A-Za-z\/]+|=|[^A-Za-z\/=]+/g)){
        if(/[A-Za-z\/]/.test(p)) add(p,{size:base,italic:true,ls:force?0:7});
        else add(p,{size:base,dx:11});
      }
    }
  });
}

const mL=210,mR=45,mT=30,mB=125;
frames.forEach((fr,i)=>{
  const [l,r,t,b]=fr,W=r-l,H=b-t,[red,green,blue,notes]=panels[i];
  const lines=[red,green,blue].map((s,k)=>Plot.line(s,{x:d=>d[0],y:d=>d[1],stroke:seriesColors[k],strokeWidth:6,strokeLinejoin:"round",clip:true}));
  const svg=Plot.plot({
    width:W+mL+mR,height:H+mT+mB,marginLeft:mL,marginRight:mR,marginTop:mT,marginBottom:mB,
    style:{fontFamily:"DejaVu Sans",color:"#111",background:"transparent",overflow:"visible"},
    x:{domain:[0,4]},y:{type:"log",domain:[1e-3,100]},
    marks:[
      ...lines,
      Plot.tickX(xTicks,{x:d=>d,insetTop:H-12,stroke:"#111",strokeWidth:2}),
      Plot.tickX(xTicks,{x:d=>d,insetBottom:H-12,stroke:"#111",strokeWidth:2}),
      Plot.tickY(yTicks,{y:d=>d,insetRight:W-12,stroke:"#111",strokeWidth:2}),
      Plot.tickY(yTicks,{y:d=>d,insetLeft:W-12,stroke:"#111",strokeWidth:2}),
      Plot.tickY(yMinor,{y:d=>d,insetRight:W-6,stroke:"#111",strokeWidth:1.5}),
      Plot.tickY(yMinor,{y:d=>d,insetLeft:W-6,stroke:"#111",strokeWidth:1.5}),
      Plot.frame({stroke:"#111",strokeWidth:3}),
      Plot.axisX(xTicks,{tickSize:0,tickPadding:17,fontSize:33,tickFormat:d=>d.toFixed(1),label:null}),
      Plot.axisY(yTicks,{tickSize:0,tickPadding:16,fontSize:33,tickFormat:d=>`10^{${Math.round(Math.log10(d))}}`,label:null}),
      Plot.text(["PSD"],{frameAnchor:"left",dx:-110,rotate:-90,lineAnchor:"bottom",textAnchor:"middle",fontSize:48,fontFamily:"Liberation Serif",fontStyle:"italic"}),
      Plot.text(["f/f_{runner}"],{frameAnchor:"bottom",dy:106,lineAnchor:"bottom",textAnchor:"middle",fontSize:44,fontFamily:"Liberation Serif"}),
      Plot.arrow(notes,{x1:"ax1",y1:"ay1",x2:"ax2",y2:"ay2",stroke:"#111",strokeWidth:2.5,headLength:13,headAngle:50}),
      Plot.text(notes,{x:"tx",y:"ty",text:"label",textAnchor:"start",lineAnchor:"bottom",fontSize:44,fontFamily:"Liberation Serif"})
    ]
  });
  svg.style.left=(l-mL)+"px";svg.style.top=(t-mT)+"px";
  page.appendChild(svg);typeset(svg);
});

// column titles and row labels
const titleAt=[[523,55],[1334,55],[2115,52],[2902,52]];
sigmas.forEach((s,i)=>{const d=document.createElement("div");d.className="sigma";
  d.innerHTML=s==="∞"?`<i>σ</i> = <span>${s}</span>`:`<i>σ</i> = ${s}`;d.style.left=titleAt[i][0]+"px";d.style.top=(titleAt[i][1]-49)+"px";page.appendChild(d);});
const rowAt=[[45,320],[37,900]];
rows.forEach((s,i)=>{const d=document.createElement("div");d.className="row";d.textContent=s;
  d.style.left=rowAt[i][0]+"px";d.style.top=rowAt[i][1]+"px";page.appendChild(d);});

// tube sketch: outline stations refined with a Catmull-Rom pass so the bend reads as smooth
const polys=[];let pid=0;
const pushPoly=(pts,c)=>{pid++;pts.forEach(p=>polys.push({id:pid,x:p[0],y:p[1],c}));};
const lerp=(a,b,t)=>[a[0]+(b[0]-a[0])*t,a[1]+(b[1]-a[1])*t];
const cr=(P,s,u)=>{const g=i=>P[Math.max(0,Math.min(P.length-1,i))],a=g(s-1),b=g(s),c=g(s+1),d=g(s+2);
  return [0,1].map(k=>.5*(2*b[k]+(c[k]-a[k])*u+(2*a[k]-5*b[k]+4*c[k]-d[k])*u*u+(3*b[k]-a[k]-3*c[k]+d[k])*u*u*u));};
const sub=5;
for(let s=0;s<tubeUpper.length-1;s++) for(let j=0;j<sub;j++){
  const u0=j/sub,u1=(j+1)/sub,ga=tubeGrays[s],gb=tubeGrays[s+1];
  ga.forEach((v,k)=>{const t0=tubeBands[k],t1=tubeBands[k+1],c=Math.round(v+(gb[k]-v)*u0);
    pushPoly([lerp(cr(tubeUpper,s,u0),cr(tubeLower,s,u0),t0),lerp(cr(tubeUpper,s,u1),cr(tubeLower,s,u1),t0),lerp(cr(tubeUpper,s,u1),cr(tubeLower,s,u1),t1),lerp(cr(tubeUpper,s,u0),cr(tubeLower,s,u0),t1)],`rgb(${c+2},${c},${c-4})`);});
}
pushPoly(outletDark,"#4c4c4c");pushPoly(outletRim,"#7a7972");
pushPoly(d3.range(24).map(i=>[1963.3+19.3*Math.cos(i*Math.PI/12),1454+10.5*Math.sin(i*Math.PI/12)]),"#525252");
pushPoly(arrowRed,"#ff0000");pushPoly(arrowBlue,"#5500ff");pushPoly(arrowGreen,"#008000");
const sketch=Plot.plot({
  width:800,height:495,margin:0,
  x:{domain:[1350,2150],range:[0,800],axis:null},y:{domain:[1300,1795],range:[0,495],axis:null},
  style:{background:"transparent",overflow:"visible"},
  marks:[
    Plot.line(polys,{x:"x",y:"y",z:"id",fill:"c",stroke:"c",strokeWidth:1,curve:"linear"}),
    Plot.text(forceLabels,{x:"x",y:"y",text:"t",textAnchor:"start",lineAnchor:"bottom",fontSize:54,fontFamily:"Liberation Serif"})
  ]
});
sketch.style.left="1350px";sketch.style.top="1300px";
page.appendChild(sketch);typeset(sketch);
</script></body></html>
